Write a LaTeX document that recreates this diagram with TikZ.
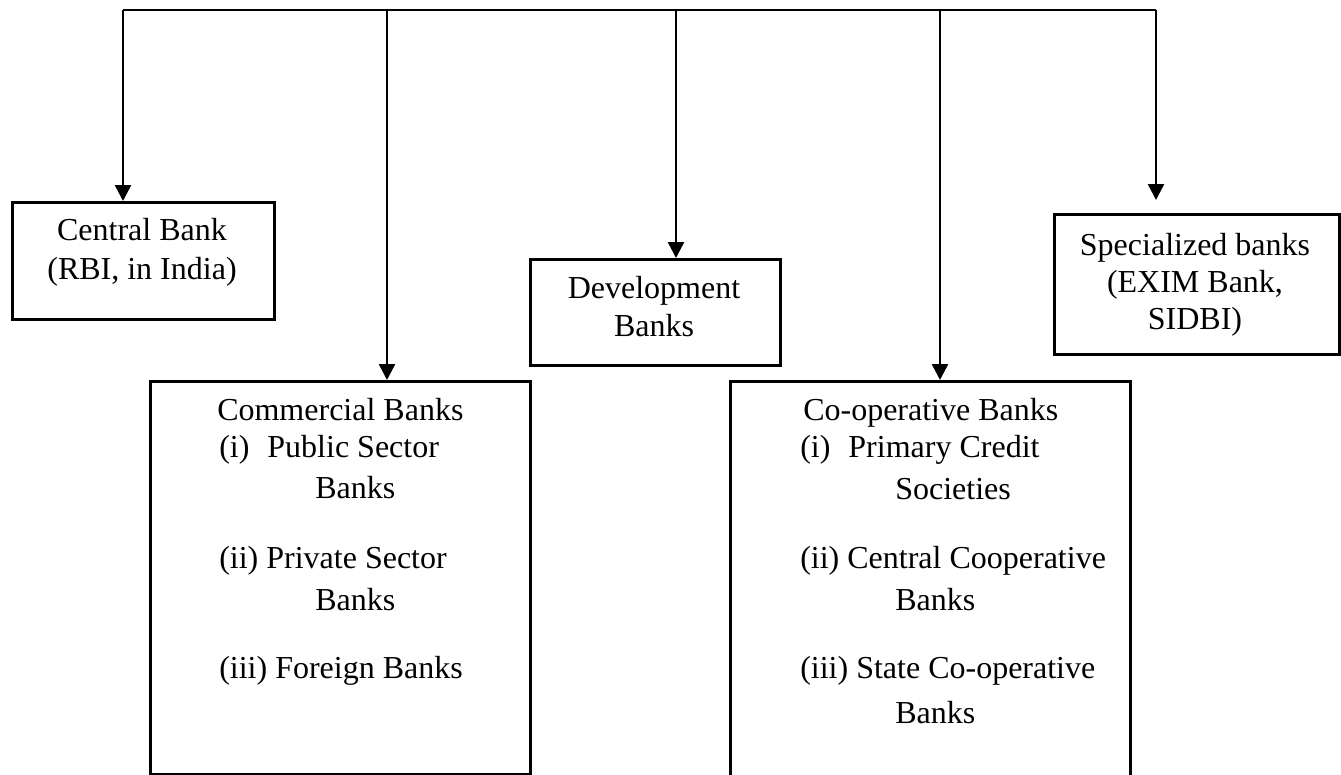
\documentclass[tikz,border=0pt]{standalone}
\usepackage{fontspec}
\setmainfont{Liberation Serif}
\usetikzlibrary{arrows.meta}

\begin{document}
\begin{tikzpicture}[x=1pt,y=-1pt,
  line width=2.5pt,
  box/.style={draw=black, line width=2.5pt, inner sep=0pt, anchor=north west},
  bus/.style={draw=black, line width=2.5pt},
  arr/.style={draw=black, line width=2.5pt, -{Triangle[width=16pt,length=16pt]}},
  txt/.style={inner sep=0pt, font=\fontsize{32}{38}\selectfont},
  ctr/.style={txt, anchor=base},
  lft/.style={txt, anchor=base west}]
  \useasboundingbox (0,0) rectangle (1341,774);

  % boxes for the five kinds of banks
  \node[box, minimum width=262pt, minimum height=117pt] (cb) at (11,201) {};
  \node[box, minimum width=250pt, minimum height=106pt] (db) at (529,258) {};
  \node[box, minimum width=285pt, minimum height=140pt] (sb) at (1053,213) {};
  \node[box, minimum width=380pt, minimum height=393pt] (kb) at (149,380) {};
  \node[box, minimum width=400pt, minimum height=400pt] (ob) at (729,380) {};

  % distribution line along the top
  \coordinate (b1) at (123,10);
  \coordinate (b2) at (387,10);
  \coordinate (b3) at (676,10);
  \coordinate (b4) at (940,10);
  \coordinate (b5) at (1156,10);
  \draw[bus] (b1) -- (b5);

  % arrows down to each box
  \draw[arr] (b1) -- (b1 |- cb.north);
  \draw[arr] (b2) -- (b2 |- kb.north);
  \draw[arr] (b3) -- (b3 |- db.north);
  \draw[arr] (b4) -- (b4 |- ob.north);
  \draw[arr, shorten >=13pt] (b5) -- (b5 |- sb.north);

  % labels
  \node[ctr] (cb1) at (142,240) {Central Bank};
  \node[ctr] (cb2) at (142,279) {(RBI, in India)};

  \node[ctr] (db1) at (654,298) {Development};
  \node[ctr] (db2) at (654,336) {Banks};

  \node[ctr] (sb1) at (1195,255) {Specialized banks};
  \node[ctr] (sb2) at (1195,292) {(EXIM Bank,};
  \node[ctr] (sb3) at (1195,329) {SIDBI)};

  \node[lft] (kb0) at (216,420) {Commercial Banks};
  \node[lft] (kb1) at (218,457) {(i)\hspace{18pt}Public Sector};
  \node[lft] (kb2) at (314,498) {Banks};
  \node[lft] (kb3) at (218,568) {(ii) Private Sector};
  \node[lft] (kb4) at (314,610) {Banks};
  \node[lft] (kb5) at (218,678) {(iii) Foreign Banks};

  \node[lft] (ob0) at (802,420) {Co-operative Banks};
  \node[lft] (ob1) at (799,457) {(i)\hspace{18pt}Primary Credit};
  \node[lft] (ob2) at (894,499) {Societies};
  \node[lft] (ob3) at (799,568) {(ii) Central Cooperative};
  \node[lft] (ob4) at (894,610) {Banks};
  \node[lft] (ob5) at (799,678) {(iii) State Co-operative};
  \node[lft] (ob6) at (894,723) {Banks};
\end{tikzpicture}
\end{document}
